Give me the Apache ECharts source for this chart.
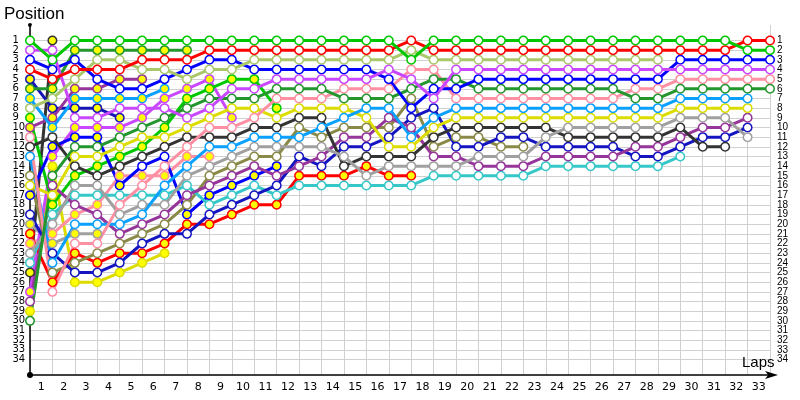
<!DOCTYPE html>
<html><head><meta charset="utf-8">
<script src="https://cdn.jsdelivr.net/npm/echarts@6/dist/echarts.min.js"></script>
<style>html,body{margin:0;padding:0;background:#fff}#c{width:800px;height:400px}</style>
</head><body><div id="c"></div>
<script>
// lap numbers (0 = starting grid)
const laps = [0,1,2,3,4,5,6,7,8,9,10,11,12,13,14,15,16,17,18,19,20,21,22,23,24,25,26,27,28,29,30,31,32,33];
const lapLabels = ['1','2','3','4','5','6','7','8','9','10','11','12','13','14','15','16','17','18','19','20','21','22','23','24','25','26','27','28','29','30','31','32','33'];
const positions = [1,2,3,4,5,6,7,8,9,10,11,12,13,14,15,16,17,18,19,20,21,22,23,24,25,26,27,28,29,30,31,32,33,34];

// position per lap (index = lap); a shorter array means the car stopped
const green       = [1,3,1,1,1,1,1,1,1,1,1,1,1,1,1,1,1,3,1,1,1,1,1,1,1,1,1,1,1,1,1,1,2,2];
const red         = [4,5,4,4,4,3,3,3,2,2,2,2,2,2,2,2,2,1,2,2,2,2,2,2,2,2,2,2,2,2,2,2,1,1];
const yellowGreen = [8,7,5,3,3,4,4,5,4,4,3,3,3,3,3,3,3,2,3,3,3,3,3,3,3,3,3,3,3];
const purple      = [2,2,9,9,8,8,8,9,8,6,6,5,5,5,5,5,4,5,7,4,4,4,4,4,4,4,4,4,4,4,4,4,4,4];
const blue        = [3,4,3,5,6,6,5,4,3,3,4,4,4,4,4,4,5,8,6,6,5,5,5,5,5,5,5,5,5,3,3,3,3,3];
const darkGreen   = [30,15,12,12,11,10,9,8,7,7,7,6,6,6,7,7,7,6,5,5,6,6,6,6,6,6,6,7,7,6,6,6,6,6];
const pink        = [11,27,22,22,18,16,14,12,10,10,9,7,7,7,6,6,6,4,4,7,7,7,7,7,7,7,7,6,6,5,5,5,5,5];
const lightBlue   = [13,24,20,20,20,19,16,14,12,12,11,11,11,10,9,8,8,11,9,8,8,8,8,8,8,8,8,8,8,7,7,7,7];
const yellow      = [16,17,13,13,12,11,11,10,9,8,8,9,8,8,8,9,12,12,10,9,9,9,9,9,9,9,9,9,9,8,8,8,8];
const grey        = [23,20,16,16,19,18,18,15,14,13,12,12,12,12,13,15,14,14,14,14,13,13,13,11,10,10,10,10,10,9,9,9,11];
const darkGrey    = [12,11,14,15,14,13,12,11,11,11,10,10,9,9,14,13,13,13,11,10,10,10,10,10,11,11,11,11,11,10,12,12];
const darkPurple  = [28,16,18,19,21,20,19,17,16,15,14,15,14,13,11,11,9,10,13,13,14,14,14,13,13,13,13,12,12,11,10,10,9];
const navy        = [19,23,25,25,24,22,21,21,19,18,17,16,13,14,12,12,11,9,8,12,12,11,11,12,12,12,12,13,13,12,11,11,10];
const cyan        = [24,19,17,17,17,17,17,16,18,17,16,17,16,16,16,16,16,16,15,15,15,15,15,14,14,14,14,14,14,13];
const olive       = [15,25,24,23,22,21,20,18,15,14,13,13,10,11,10,10,10,7,12,11,11,12,12];
const red2        = [21,26,23,24,23,23,22,20,20,19,18,18,15,15,15,14,15,15];
const purple2     = [27,13,10,10,10,9,7,6,5,9];
const green2      = [9,18,15,14,13,12,10,7,6,5,5,8];
const darkGreen2  = [6,6,2,2,2,2,2,2];
const darkGrey2   = [25,1];
const yellow2     = [29,14,26,26,25,24,23];
const navy2       = [5,8,8,8,9];
const blue2       = [17,12,11,11,16,14,13,19,17,16,15,14];
const pink2       = [22,21,19,18,15,15,15,13,13];
const grey2       = [20,22,21,21];
const darkPurple2 = [10,9,6,6,5,5];
const lightBlue2  = [7,10,7,7,7,7,6];

const drivers = [
  ['darkGrey2', darkGrey2, '#333333'], ['navy2', navy2, '#1414b4'], ['darkPurple2', darkPurple2, '#96369a'],
  ['lightBlue2', lightBlue2, '#0aa0ff'], ['yellow2', yellow2, '#dcdc00'], ['grey2', grey2, '#a0a0a0'],
  ['darkGreen2', darkGreen2, '#24962e'], ['pink2', pink2, '#ff8fa3'], ['purple2', purple2, '#c847ff'],
  ['green2', green2, '#00c800'], ['blue2', blue2, '#0000ff'], ['red2', red2, '#ff0000'],
  ['olive', olive, '#8a8a48'], ['cyan', cyan, '#36c8c8'], ['navy', navy, '#1414c0'],
  ['darkPurple', darkPurple, '#96369a'], ['darkGrey', darkGrey, '#333333'], ['grey', grey, '#a0a0a0'],
  ['yellow', yellow, '#dcdc00'], ['lightBlue', lightBlue, '#0aa0ff'], ['pink', pink, '#ff8fa3'],
  ['darkGreen', darkGreen, '#24962e'], ['blue', blue, '#0000ff'], ['purple', purple, '#c847ff'],
  ['yellowGreen', yellowGreen, '#a9c86a'], ['red', red, '#ff0000'], ['green', green, '#00c800']
];
const yellowDrivers = ['darkGrey2','navy2','darkGreen2','lightBlue2','green2','darkPurple2','blue2','grey2','red2','pink2','purple2','yellow2'];
const hollowLaps = { blue2: [5, 6] };

const series = drivers.map(([name, pos, color]) => {
  const filled = yellowDrivers.includes(name);
  const hollow = hollowLaps[name] || [];
  const data = pos.map((p, i) => ({
    value: [laps[i], p],
    itemStyle: { color: (filled && !hollow.includes(laps[i])) ? '#ffff00' : '#ffffff' }
  }));
  return {
    type: 'line', name, data, symbol: 'circle', symbolSize: 8.5, showAllSymbol: true,
    lineStyle: { color, width: 3 }, itemStyle: { color: '#ffffff', borderColor: color, borderWidth: 1.5 },
    z: 3, silent: true, emphasis: { disabled: true }
  };
});
// white strip hiding the vertical grid lines above position 1
series.unshift({
  type: 'line', data: [], z: 1, silent: true,
  markArea: { silent: true, itemStyle: { color: '#ffffff' },
    data: [[{ coord: [0.07, -0.6] }, { coord: [33.05, 0.92] }]] }
});

const labelPos = lapLabels.map((_, i) => i + 0.5);
// blank guard entries at both ends so that no real position label gets auto-hidden
const posLabelValues = [0].concat(positions, [35]);
const posFormatter = v => (v >= 1 && v <= 34) ? String(v) : '';

const chart = echarts.init(document.getElementById('c'), null, { renderer: 'canvas' });
chart.setOption({
  animation: false,
  backgroundColor: '#ffffff',
  title: [
    { text: 'Position', left: 4, top: 6, padding: 0, textStyle: { fontSize: 17, fontWeight: 'normal', fontFamily: 'Liberation Sans', color: '#000' } },
    { text: 'Laps', left: 742, top: 355, padding: 0, textStyle: { fontSize: 15, fontWeight: 'normal', fontFamily: 'Liberation Sans', color: '#000' } }
  ],
  grid: { left: 30, right: 30, top: 25, bottom: 25, containLabel: false },
  xAxis: {
    type: 'value', min: 0, max: 33,
    axisLine: { show: true, onZero: false, lineStyle: { color: '#000', width: 1.5 },
      symbol: ['circle', 'arrow'], symbolSize: [6, 13], symbolOffset: [0, 8] },
    axisTick: { show: false, customValues: laps },
    axisLabel: { customValues: labelPos, formatter: v => lapLabels[Math.round(v - 0.5)],
      showMinLabel: true, showMaxLabel: true,
      fontSize: 11, fontFamily: 'DejaVu Sans', color: '#000', margin: 7 },
    splitLine: { show: true, lineStyle: { color: '#d0d0d0', width: 1 } }
  },
  yAxis: [{
    type: 'value', inverse: true, min: -0.6, max: 35.6,
    axisLine: { show: true, onZero: false, lineStyle: { color: '#000', width: 1.5 },
      symbol: ['circle', 'circle'], symbolSize: [4, 4] },
    axisTick: { show: false, customValues: positions },
    axisLabel: { customValues: posLabelValues, formatter: posFormatter, showMinLabel: false, showMaxLabel: false, hideOverlap: false,
      margin: 17.5, align: 'left', fontSize: 10, fontFamily: 'DejaVu Sans', color: '#000' },
    splitLine: { show: true, lineStyle: { color: '#d0d0d0', width: 1 } }
  }, {
    type: 'value', inverse: true, min: -0.6, max: 35.6, position: 'right',
    axisLine: { show: false, onZero: false },
    axisTick: { show: false, customValues: positions },
    axisLabel: { customValues: posLabelValues, formatter: posFormatter, showMinLabel: false, showMaxLabel: false, hideOverlap: false,
      margin: 7, fontSize: 10, fontFamily: 'Liberation Sans', color: '#000' },
    splitLine: { show: false }
  }],
  series
});
</script></body></html>
